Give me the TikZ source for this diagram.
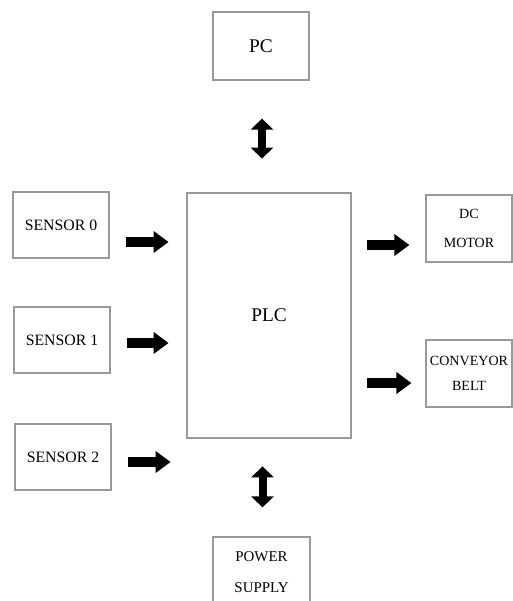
\documentclass[tikz,border=0pt]{standalone}
\usepackage{fontspec}
\setmainfont{Liberation Serif}
\usetikzlibrary{arrows.meta}

\begin{document}
\begin{tikzpicture}[x=0.02cm,y=-0.02cm,
  blk/.style={draw=black!40,line width=0.7pt,fill=white,align=center,inner sep=0pt},
  fat/.style={line width=0.2cm,-{Triangle[length=0.3cm,width=0.42cm]}},
  fatboth/.style={line width=0.16cm,{Triangle[length=0.22cm,width=0.44cm]}-{Triangle[length=0.22cm,width=0.44cm]}}]
\useasboundingbox (0,0) rectangle (513,601);

\node[blk,minimum width=1.92cm,minimum height=1.36cm,font=\fontsize{11}{13}\selectfont] (pc) at (261,46) {PC};
\node[blk,minimum width=3.28cm,minimum height=4.9cm,font=\fontsize{11}{13}\selectfont] (plc) at (269,315.5) {PLC};

\node[blk,minimum width=1.92cm,minimum height=1.32cm,font=\fontsize{9}{11}\selectfont] (s0) at (61,225) {SENSOR 0};
\node[blk,minimum width=1.92cm,minimum height=1.32cm,font=\fontsize{9}{11}\selectfont] (s1) at (62,340) {SENSOR 1};
\node[blk,minimum width=1.92cm,minimum height=1.32cm,font=\fontsize{9}{11}\selectfont] (s2) at (63,457) {SENSOR 2};

\node[blk,minimum width=1.72cm,minimum height=1.34cm,font=\fontsize{8}{16.5}\selectfont] (dc) at (469,228.5) {DC\\MOTOR};
\node[blk,minimum width=1.72cm,minimum height=1.34cm,font=\fontsize{8}{14.5}\selectfont] (cv) at (469,373.5) {CONVEYOR\\BELT};
\node[blk,minimum width=1.94cm,minimum height=1.4cm,font=\fontsize{8.5}{17.5}\selectfont] (pw) at (261.5,572) {POWER\\SUPPLY};

\draw[fat] (s0.east) ++(16,17) -- ++(43,0);
\draw[fat] (s1.east) ++(16,3) -- ++(42,0);
\draw[fat] (s2.east) ++(16,5) -- ++(43,0);
\draw[fat] (dc.west) ++(-58,16.5) -- ++(42,0);
\draw[fat] (cv.west) ++(-58,9.5) -- ++(44,0);

\draw[fatboth] (pc.south) ++(1,38) -- ++(0,40);
\draw[fatboth] (pw.north) ++(1,-29) -- ++(0,-41);
\end{tikzpicture}
\end{document}
